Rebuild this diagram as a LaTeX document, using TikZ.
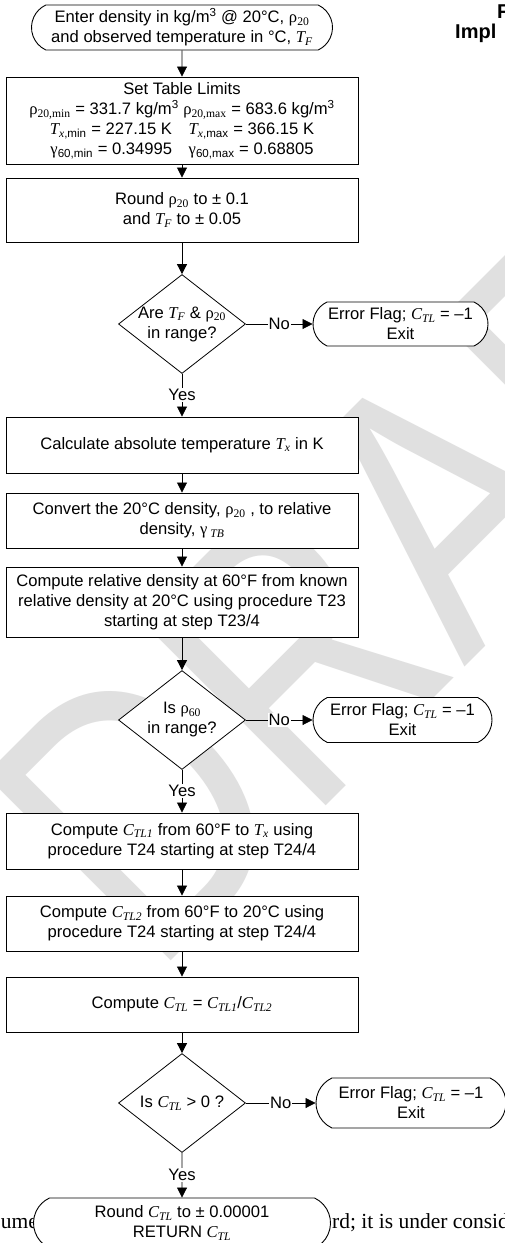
\documentclass[tikz,border=0pt]{standalone}
\usepackage{fontspec}
\setmainfont{Liberation Sans}
\newfontfamily\serif{Liberation Serif}
\usetikzlibrary{shapes.geometric,shapes.misc,arrows.meta}

% Greek letter in the serif face, subscripts, italic variables
\newcommand\gk[1]{{\serif #1}}
\newcommand\ix[2]{{\serif\itshape #1}\textsubscript{\serif\itshape #2}}
\newcommand\rsub[1]{\gk{ρ}\textsubscript{\serif #1}}

\tikzset{
  txt/.style={font=\fontsize{16.6}{20}\selectfont, align=center, inner sep=0pt},
  procbox/.style={txt, draw, fill=white, line width=0.9pt, minimum width=352pt},
  termbox/.style={txt, draw, fill=white, line width=0.9pt, rounded rectangle,
    rounded rectangle arc length=130},
  decbox/.style={draw, fill=white, diamond, line width=0.8pt, inner sep=0pt,
    minimum width=127pt, minimum height=99pt},
  lbl/.style={txt, fill=white, inner sep=1pt},
  flow/.style={line width=0.8pt, -{Triangle[length=10pt,width=10pt]}},
  wmark/.style={text=black!12, inner sep=0pt, font=\fontsize{305}{305}\selectfont},
  pagetext/.style={inner sep=0pt, font=\serif\fontsize{21.5}{24}\selectfont},
  headtext/.style={inner sep=0pt, font=\bfseries\fontsize{20}{24}\selectfont},
}

\begin{document}
\begin{tikzpicture}[x=1pt,y=-1pt]
\useasboundingbox (0,0) rectangle (505,1243);
\fill[white] (0,0) rectangle (505,1243);
\clip (0,0) rectangle (505,1243);

% watermark: diagonal, slightly stretched lettering
\begin{scope}[shift={(153,979)}, rotate=45, yscale=1.25]
  \node[wmark, anchor=base west, transform shape] (wm) at (0,0) {DRAFT};
\end{scope}

% surrounding page text
\node[headtext, anchor=base west] (hd1) at (497,18) {F};
\node[headtext, anchor=base west] (hd2) at (455,38) {Impl};
\node[pagetext, anchor=base east] (pg1) at (38,1228) {ume};
\node[pagetext, anchor=base west] (pg2) at (332,1228) {rd; it is under consid};

% main column
\node[termbox, minimum width=301pt, minimum height=45pt] (t1) at (182,27.5)
  {Enter density in kg/m\textsuperscript{3} @ 20°C, \rsub{20}\\
   and observed temperature in °C, \ix{T}{F}};
\node[procbox, minimum height=87pt] (b2) at (182,120.5)
  {Set Table Limits\\
   \rsub{20,min} = 331.7 kg/m\textsuperscript{3} \rsub{20,max} = 683.6 kg/m\textsuperscript{3}\\
   {\serif\itshape T}\textsubscript{{\serif\itshape x},min} = 227.15 K\quad
   {\serif\itshape T}\textsubscript{{\serif\itshape x},max} = 366.15 K\\
   \gk{γ}\textsubscript{60,min} = 0.34995\quad \gk{γ}\textsubscript{60,max} = 0.68805};
\node[procbox, minimum height=64pt] (b3) at (182,210)
  {Round \rsub{20} to ± 0.1\\ and \ix{T}{F} to ± 0.05};
\node[decbox] (d1) at (182,324) {};
\node[txt] (d1t) at (182,324) {Are \ix{T}{F} \& \rsub{20}\\ in range?};
\node[termbox, minimum width=175pt, minimum height=44pt] (e1) at (400.5,324)
  {Error Flag; \ix{C}{TL} = –1\\ Exit};
\node[procbox, minimum height=56pt] (b4) at (182,445)
  {Calculate absolute temperature \ix{T}{x} in K};
\node[procbox, minimum height=55pt] (b5) at (182,520.5)
  {Convert the 20°C density, \rsub{20} , to relative\\ density, \gk{γ}\,\textsubscript{\serif\itshape TB}};
\node[procbox, minimum height=70pt] (b6) at (182,602)
  {Compute relative density at 60°F from known\\
   relative density at 20°C using procedure T23\\
   starting at step T23/4};
\node[decbox] (d2) at (182,720) {};
\node[txt] (d2t) at (182,720) {Is \rsub{60}\\ in range?};
\node[termbox, minimum width=179pt, minimum height=45pt] (e2) at (402.5,720)
  {Error Flag; \ix{C}{TL} = –1\\ Exit};
\node[procbox, minimum height=56pt] (b7) at (182,841)
  {Compute \ix{C}{TL1} from 60°F to \ix{T}{x} using\\
   procedure T24 starting at step T24/4};
\node[procbox, minimum height=55pt] (b8) at (182,923.5)
  {Compute \ix{C}{TL2} from 60°F to 20°C using\\
   procedure T24 starting at step T24/4};
\node[procbox, minimum height=55pt] (b9) at (182,1004.5)
  {Compute \ix{C}{TL} = \ix{C}{TL1}/\ix{C}{TL2}};
\node[decbox] (d3) at (182,1103) {};
\node[txt] (d3t) at (182,1103) {Is \ix{C}{TL} > 0 ?};
\node[termbox, minimum width=190pt, minimum height=50pt] (e3) at (411,1103)
  {Error Flag; \ix{C}{TL} = –1\\ Exit};
\node[termbox, minimum width=297pt, minimum height=50pt] (t2) at (182,1223)
  {Round \ix{C}{TL} to ± 0.00001\\ RETURN \ix{C}{TL}};

% connectors
\draw[flow] (t1) -- (b2);
\draw[flow] (b2) -- (b3);
\draw[flow] (b3) -- (d1);
\draw[flow] (d1) -- node[lbl] (n1) {No} (e1);
\draw[flow] (d1) -- node[lbl] (y1) {Yes} (b4);
\draw[flow] (b4) -- (b5);
\draw[flow] (b5) -- (b6);
\draw[flow] (b6) -- (d2);
\draw[flow] (d2) -- node[lbl] (n2) {No} (e2);
\draw[flow] (d2) -- node[lbl] (y2) {Yes} (b7);
\draw[flow] (b7) -- (b8);
\draw[flow] (b8) -- (b9);
\draw[flow] (b9) -- (d3);
\draw[flow] (d3) -- node[lbl] (n3) {No} (e3);
\draw[flow] (d3) -- node[lbl] (y3) {Yes} (t2);
\end{tikzpicture}
\end{document}
